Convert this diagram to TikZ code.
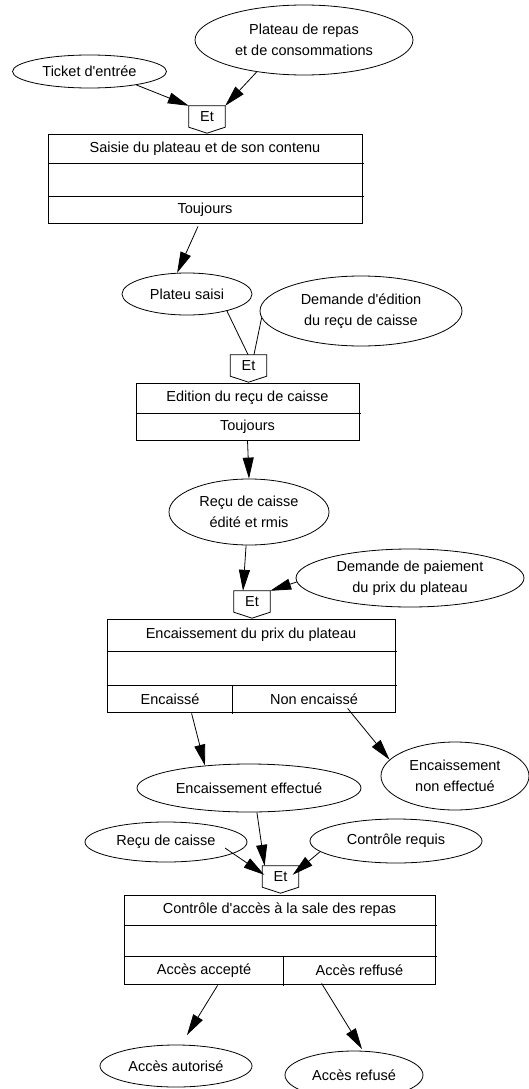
\documentclass[tikz,border=0pt]{standalone}
\usepackage{fontspec}
\setmainfont{Liberation Sans}[Ligatures=TeXOff]
\usetikzlibrary{shapes.geometric,arrows.meta,calc}
\begin{document}
\begin{tikzpicture}[x=1pt,y=-1pt,
  every node/.style={font=\fontsize{14.5}{21}\selectfont, inner sep=0pt},
  ell/.style={draw, ellipse, line width=0.8pt, align=center},
  etbox/.style={minimum width=36pt, minimum height=21pt},
  frame/.style={draw, line width=0.8pt},
  arr/.style={line width=0.8pt, -{Triangle[length=21pt,width=11pt]}},
  ln/.style={line width=0.8pt}]
\useasboundingbox (0,0) rectangle (529,1089);

% ---------- ellipses ----------
\node[ell, minimum width=154pt, minimum height=33pt] (ticket) at (89.5,71.5) {Ticket d'entrée};
\node[ell, minimum width=218pt, minimum height=70pt] (plateau) at (304,40) {Plateau de repas\\et de consommations};
\node[ell, minimum width=130pt, minimum height=42pt] (psaisi) at (187,294) {Plateu saisi};
\node[ell, minimum width=202pt, minimum height=70pt] (demande) at (361,311) {Demande d'édition\\du reçu de caisse};
\node[ell, minimum width=160pt, minimum height=66pt] (recu) at (249,512) {Reçu de caisse\\édité et rmis};
\node[ell, minimum width=228pt, minimum height=58pt] (paiement) at (410,578) {Demande de paiement\\du prix du plateau};
\node[ell, minimum width=224pt, minimum height=48pt] (enceff) at (249,788) {Encaissement effectué};
\node[ell, minimum width=148pt, minimum height=68pt] (encnon) at (455,776) {Encaissement\\non effectué};
\node[ell, minimum width=162pt, minimum height=40pt] (rc) at (166,842) {Reçu de caisse};
\node[ell, minimum width=172pt, minimum height=44pt] (controle) at (396,841) {Contrôle requis};
\node[ell, minimum width=152pt, minimum height=42pt] (autorise) at (176,1066) {Accès autorisé};
\node[ell, minimum width=138pt, minimum height=48pt] (refuse) at (354,1075) {Accès refusé};

% ---------- Et connectors ----------
\foreach \n/\x/\y in {et1/207/116.5, et2/248.5/365.5, et3/252/601.5, et4/280.5/876.5}{
  \node[etbox] (\n) at (\x,\y) {Et};
  \draw[ln] (\n.north west) -- (\n.north east) -- (\n.south east)
    -- ($(\n.south)+(0,6)$) -- (\n.south west) -- cycle;
}

% ---------- box 1 ----------
\node[frame, minimum width=314pt, minimum height=89pt] (box1) at (205,178.5) {};
\draw[ln] ($(box1.north west)+(0,30)$) -- ($(box1.north east)+(2,30)$);
\draw[ln] ($(box1.north west)+(0,63)$) -- ($(box1.north east)+(2,63)$);
\node (box1t) at ($(box1.north)+(0,15)$) {Saisie du plateau et de son contenu};
\node (box1c) at ($(box1.north)+(0,76)$) {Toujours};

% ---------- box 2 ----------
\node[frame, minimum width=223pt, minimum height=57pt] (box2) at (247.5,411.5) {};
\draw[ln] ($(box2.north west)+(0,31)$) -- ($(box2.north east)+(2,31)$);
\node (box2t) at ($(box2.north)+(0,15.5)$) {Edition du reçu de caisse};
\node (box2c) at ($(box2.north)+(0,44)$) {Toujours};

% ---------- box 3 ----------
\node[frame, minimum width=288pt, minimum height=93pt] (box3) at (251,665.5) {};
\draw[ln] ($(box3.north west)+(0,33)$) -- ($(box3.north east)+(2,33)$);
\draw[ln] ($(box3.north west)+(0,67)$) -- ($(box3.north east)+(2,67)$);
\draw[ln] ($(box3.north west)+(126,67)$) -- ($(box3.south west)+(126,2)$);
\node (box3t) at ($(box3.north)+(0,16.5)$) {Encaissement du prix du plateau};
\node (box3a) at (170,699) {Encaissé};
\node (box3b) at (314,699) {Non encaissé};

% ---------- box 4 ----------
\node[frame, minimum width=311pt, minimum height=89pt] (box4) at (279.5,939.5) {};
\draw[ln] ($(box4.north west)+(0,31)$) -- ($(box4.north east)+(2,31)$);
\draw[ln] ($(box4.north west)+(0,62)$) -- ($(box4.north east)+(2,62)$);
\draw[ln] ($(box4.north west)+(160,62)$) -- ($(box4.south west)+(160,2)$);
\node (box4t) at ($(box4.north)+(0,15.5)$) {Contrôle d'accès à la sale des repas};
\node (box4a) at (204,970.5) {Accès accepté};
\node (box4b) at (359.5,970.5) {Accès reffusé};

% ---------- connectors ----------
\draw[arr] (ticket.-16) -- (et1.north west);
\draw[arr] (plateau.214) -- (et1.north east);
\draw[arr] ($(box1.south)+(-7,3)$) -- (psaisi.115);
\draw[ln] (psaisi.-23) -- (et2.92);
\draw[ln] (demande.184) -- (et2.63);
\draw[arr] (box2.south) -- (recu.north);
\draw[arr] (recu.265) -- (et3.130);
\draw[arr] (paiement.182) -- (et3.north east);
\draw[arr] ($(box3.south west)+(85,1)$) -- (enceff.153);
\draw[arr] ($(box3.south west)+(241,-4)$) -- (encnon.166);
\draw[arr] (enceff.-72) -- (et4.146);
\draw[arr] ($(rc.center)+(59,6)$) -- ($(et4.north west)+(2,9)$);
\draw[arr] (controle.188) -- ($(et4.north east)+(-6,9)$);
\draw[arr] ($(box4.south west)+(94,1)$) -- ($(autorise.center)+(11,-31)$);
\draw[arr] ($(box4.south west)+(198,-1)$) -- ($(refuse.center)+(8,-26)$);
\end{tikzpicture}
\end{document}
